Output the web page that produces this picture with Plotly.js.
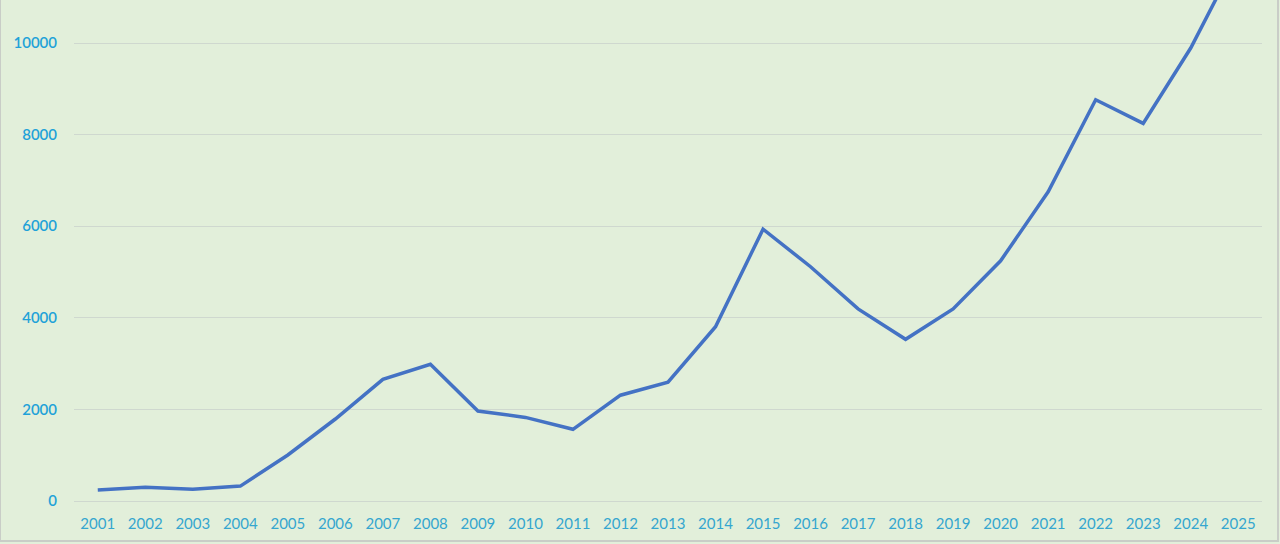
<!DOCTYPE html>
<html>
<head>
<meta charset="utf-8">
<script src="https://cdn.plot.ly/plotly-3.0.1.min.js"></script>
<style>
  html, body { margin: 0; padding: 0; background: #e2efda; }
  #chart { width: 1280px; height: 544px; }
</style>
</head>
<body>
<div id="chart"></div>
<script>
"use strict";

// years on the category axis
const years = [
    "2001", "2002", "2003", "2004", "2005", "2006", "2007", "2008", "2009",
    "2010", "2011", "2012", "2013", "2014", "2015", "2016", "2017", "2018",
    "2019", "2020", "2021", "2022", "2023", "2024", "2025"
];

// values (2025 runs past the top of the plot)
const counts = [
    240, 300, 255, 325, 1005, 1790, 2655, 2985, 1965,
    1825, 1565, 2310, 2595, 3805, 5935, 5115, 4195, 3530,
    4195, 5245, 6750, 8760, 8245, 9890, 11900
];

const yTicks = [0, 2000, 4000, 6000, 8000, 10000];

const el = document.getElementById("chart");

Plotly.newPlot(el, [
    {
        type: "scatter",
        mode: "lines",
        x: years,
        y: counts,
        line: { color: "#4472c4", width: 3.5 },
        hoverinfo: "x+y"
    }
], {
    width: 1280,
    height: 544,
    showlegend: false,
    paper_bgcolor: "#e2efda",
    plot_bgcolor: "#e2efda",
    margin: { l: 74, r: 18, t: 0, b: 43 },
    font: { family: "Lato, 'Open Sans', sans-serif" },
    xaxis: {
        type: "category",
        range: [-0.5, 24.5],
        showgrid: false,
        zeroline: false,
        showline: false,
        ticks: "",
        ticklabelstandoff: 12,
        tickfont: { size: 15, color: "#35a6cf" },
        fixedrange: true
    },
    yaxis: {
        range: [0, 10939],
        tickvals: yTicks,
        ticktext: yTicks.map(String),
        showgrid: true,
        gridcolor: "#cfd8cf",
        gridwidth: 1,
        zeroline: true,
        zerolinecolor: "#cfd8cf",
        zerolinewidth: 1,
        showline: false,
        ticks: "",
        ticklabelstandoff: 16,
        tickfont: { size: 15, color: "#1fa2d8", weight: 600 },
        fixedrange: true
    },
    shapes: [
        {
            type: "rect",
            xref: "paper", yref: "paper",
            x0: -74 / 1188, x1: 1 + 16 / 1188,
            y0: -40 / 501, y1: 1.02,
            line: { color: "#c9cdc7", width: 2 },
            fillcolor: "rgba(0,0,0,0)",
            layer: "above"
        }
    ]
}, { displayModeBar: false, staticPlot: true });
</script>
</body>
</html>
